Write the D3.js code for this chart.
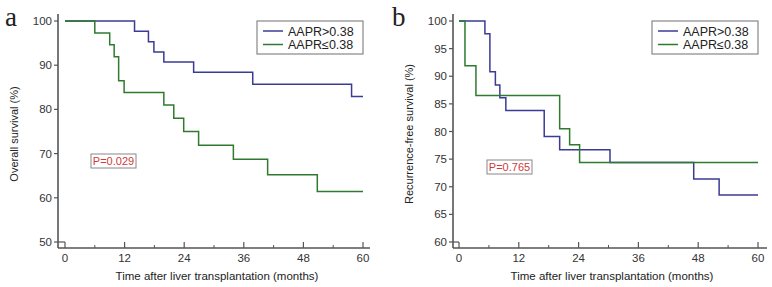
<!DOCTYPE html>
<html>
<head>
<meta charset="utf-8">
<script src="https://cdn.jsdelivr.net/npm/d3@7"></script>
<style>
  body { margin: 0; background: #fff; }
  svg { font-family: "Liberation Sans", Arial, sans-serif; }
</style>
</head>
<body>
<div id="chart"></div>
<script>
// Kaplan-Meier step data (months, survival %)
const osHighTimes = [0, 14, 16.8, 17.9, 19.9, 25.9, 37.8, 57.7, 60];
const osHighSurv  = [100, 97.7, 95.3, 93.0, 90.7, 88.4, 85.7, 82.9, 82.9];
const osLowTimes  = [0, 6, 9, 9.9, 10.8, 11.9, 19.9, 21.9, 23.9, 26.9, 33.9, 40.8, 50.8, 60];
const osLowSurv   = [100, 97.3, 94.6, 91.9, 86.5, 83.8, 81.0, 78.0, 75.0, 71.9, 68.7, 65.2, 61.4, 61.4];

const rfsHighTimes = [0, 5.2, 6.2, 7.3, 8.2, 9.4, 17.1, 20.2, 30.3, 47.1, 52.2, 60];
const rfsHighSurv  = [100, 97.7, 90.8, 88.4, 86.1, 83.8, 79.1, 76.7, 74.4, 71.4, 68.5, 68.5];
const rfsLowTimes  = [0, 1.2, 3.4, 20.2, 22.2, 24.2, 60];
const rfsLowSurv   = [100, 91.9, 86.5, 80.5, 77.6, 74.4, 74.4];

const xTicks = [0, 12, 24, 36, 48, 60];
const xMinorTicks = [6, 18, 30, 42, 54];
const osYTicks = [50, 60, 70, 80, 90, 100];
const rfsYTicks = [60, 65, 70, 75, 80, 85, 90, 95, 100];
const groupNames = ["AAPR>0.38", "AAPR\u22640.38"];
const groupColors = ["#3b3b96", "#2f7a2f"];

const svg = d3.select("#chart").append("svg")
  .attr("width", 772)
  .attr("height", 287);

function zip(t, s) { return t.map((d, i) => ({ t: d, s: s[i] })); }

function drawPanel(o) {
  const g = svg.append("g");
  const x = d3.scaleLinear().domain([0, 60]).range([o.x0, o.x1]);
  const y = d3.scaleLinear().domain(o.yDomain).range([o.yBottom, 21]);
  const axisColor = "#555";

  // y axis line
  g.append("line")
    .attr("x1", o.axisX).attr("x2", o.axisX)
    .attr("y1", 14).attr("y2", 248)
    .attr("stroke", axisColor).attr("stroke-width", 1.6);
  // x axis line
  g.append("line")
    .attr("x1", o.axisX).attr("x2", o.axisEnd)
    .attr("y1", 248).attr("y2", 248)
    .attr("stroke", axisColor).attr("stroke-width", 1.6);

  // y ticks (outward) and labels
  o.yTicks.forEach(v => {
    g.append("line")
      .attr("x1", o.axisX - 4).attr("x2", o.axisX)
      .attr("y1", y(v)).attr("y2", y(v))
      .attr("stroke", axisColor).attr("stroke-width", 1.2);
    g.append("text")
      .attr("x", o.axisX - 6).attr("y", y(v) + 4)
      .attr("text-anchor", "end")
      .attr("font-size", 11.5).attr("fill", "#333")
      .text(v);
  });
  // little corner at the bottom of the y range
  g.append("line")
    .attr("x1", o.axisX).attr("x2", x(0))
    .attr("y1", y(o.yDomain[0])).attr("y2", y(o.yDomain[0]))
    .attr("stroke", axisColor).attr("stroke-width", 1.2);

  // x ticks (inward)
  xTicks.forEach(v => {
    g.append("line")
      .attr("x1", x(v)).attr("x2", x(v))
      .attr("y1", 248).attr("y2", v === 0 ? y(o.yDomain[0]) : 242)
      .attr("stroke", axisColor).attr("stroke-width", 1.2);
    g.append("text")
      .attr("x", x(v)).attr("y", 262)
      .attr("text-anchor", "middle")
      .attr("font-size", 11.5).attr("fill", "#333")
      .text(v);
  });
  xMinorTicks.forEach(v => {
    g.append("line")
      .attr("x1", x(v)).attr("x2", x(v))
      .attr("y1", 248).attr("y2", 245)
      .attr("stroke", axisColor).attr("stroke-width", 1);
  });

  // axis titles
  g.append("text")
    .attr("x", o.titleX).attr("y", 280)
    .attr("text-anchor", "middle")
    .attr("font-size", 11.5).attr("fill", "#222")
    .text("Time after liver transplantation (months)");
  g.append("text")
    .attr("transform", `translate(${o.yTitleX},134) rotate(-90)`)
    .attr("text-anchor", "middle")
    .attr("font-size", 11).attr("fill", "#222")
    .text(o.yTitle);

  // panel letter
  g.append("text")
    .attr("x", o.letterX).attr("y", 26)
    .style("font-family", "'Liberation Serif', 'Times New Roman', serif")
    .attr("font-size", 27).attr("fill", "#222")
    .text(o.letter);

  // curves
  const line = d3.line()
    .x(d => x(d.t)).y(d => y(d.s))
    .curve(d3.curveStepAfter);
  o.series.forEach((s, i) => {
    g.append("path")
      .datum(s)
      .attr("d", line)
      .attr("fill", "none")
      .attr("stroke", groupColors[i])
      .attr("stroke-width", 1.5);
  });

  // legend
  const lg = g.append("g").attr("transform", `translate(${o.legendX},21)`);
  lg.append("rect")
    .attr("x", 0).attr("y", 0).attr("width", 106).attr("height", 33)
    .attr("fill", "#fff").attr("stroke", "#888").attr("stroke-width", 1.2);
  groupNames.forEach((name, i) => {
    const yy = 10 + i * 13.5;
    lg.append("line")
      .attr("x1", 6).attr("x2", 26).attr("y1", yy).attr("y2", yy)
      .attr("stroke", groupColors[i]).attr("stroke-width", 1.5);
    lg.append("text")
      .attr("x", 31).attr("y", yy + 4.5)
      .attr("font-size", 12.5).attr("fill", "#222")
      .text(name);
  });

  // p-value box
  const pg = g.append("g").attr("transform", `translate(${o.pX},${o.pY})`);
  pg.append("rect")
    .attr("x", 0).attr("y", 0).attr("width", 45).attr("height", 14)
    .attr("fill", "#fff").attr("stroke", "#888").attr("stroke-width", 1);
  pg.append("text")
    .attr("x", 22.5).attr("y", 11)
    .attr("text-anchor", "middle")
    .attr("font-size", 11).attr("fill", "#d03a3a")
    .text(o.pText);
}

drawPanel({
  letter: "a", letterX: 5,
  x0: 65, x1: 363, axisX: 58, axisEnd: 370, titleX: 217,
  yDomain: [50, 100], yBottom: 242, yTicks: osYTicks,
  yTitle: "Overall survival (%)", yTitleX: 18,
  series: [zip(osHighTimes, osHighSurv), zip(osLowTimes, osLowSurv)],
  legendX: 257,
  pText: "P=0.029", pX: 91, pY: 154
});

drawPanel({
  letter: "b", letterX: 392,
  x0: 459, x1: 758, axisX: 453, axisEnd: 767, titleX: 612,
  yDomain: [60, 100], yBottom: 242, yTicks: rfsYTicks,
  yTitle: "Recurrence-free survival (%)", yTitleX: 413,
  series: [zip(rfsHighTimes, rfsHighSurv), zip(rfsLowTimes, rfsLowSurv)],
  legendX: 652,
  pText: "P=0.765", pX: 487, pY: 160
});
</script>
</body>
</html>
